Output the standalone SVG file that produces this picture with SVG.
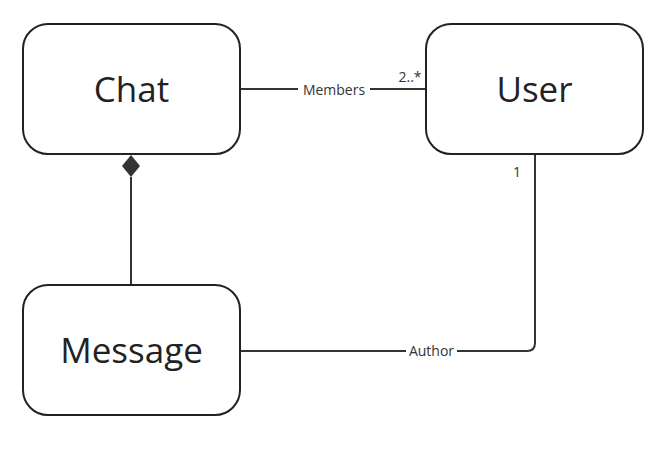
<svg xmlns="http://www.w3.org/2000/svg" width="670" height="449" viewBox="0 0 670 449">
<style>
.box{fill:#fff;stroke:#222;stroke-width:2}
.title{font-family:"Open Sans","Noto Sans",sans-serif;font-size:35px;fill:#222;text-anchor:middle}
.lbl{font-family:"Open Sans","Noto Sans",sans-serif;font-size:14px;fill:#333;text-anchor:middle}
.ln{fill:none;stroke:#333;stroke-width:2}
</style>
<rect width="670" height="449" fill="#fff"/>
<g id="connectors">
<path class="ln" d="M241 89H298M370 89H425"/>
<text class="lbl" x="334" y="94.5">Members</text>
<text class="lbl" x="410" y="82">2..*</text>
<path class="ln" d="M131 177V285"/>
<path d="M131 155L140 166L131 177L122 166Z" fill="#333"/>
<path class="ln" d="M535 155V343Q535 351 527 351H457M406 351H241"/>
<text class="lbl" x="431.5" y="356">Author</text>
<text class="lbl" x="517" y="177">1</text>
</g>
<g id="chat"><rect class="box" x="23" y="24" width="217" height="130" rx="25"/><text class="title" x="131.5" y="102">Chat</text></g>
<g id="user"><rect class="box" x="426" y="24" width="217" height="130" rx="25"/><text class="title" x="534.5" y="102">User</text></g>
<g id="message"><rect class="box" x="23" y="285" width="217" height="130" rx="25"/><text class="title" x="131.5" y="363">Message</text></g>
</svg>
